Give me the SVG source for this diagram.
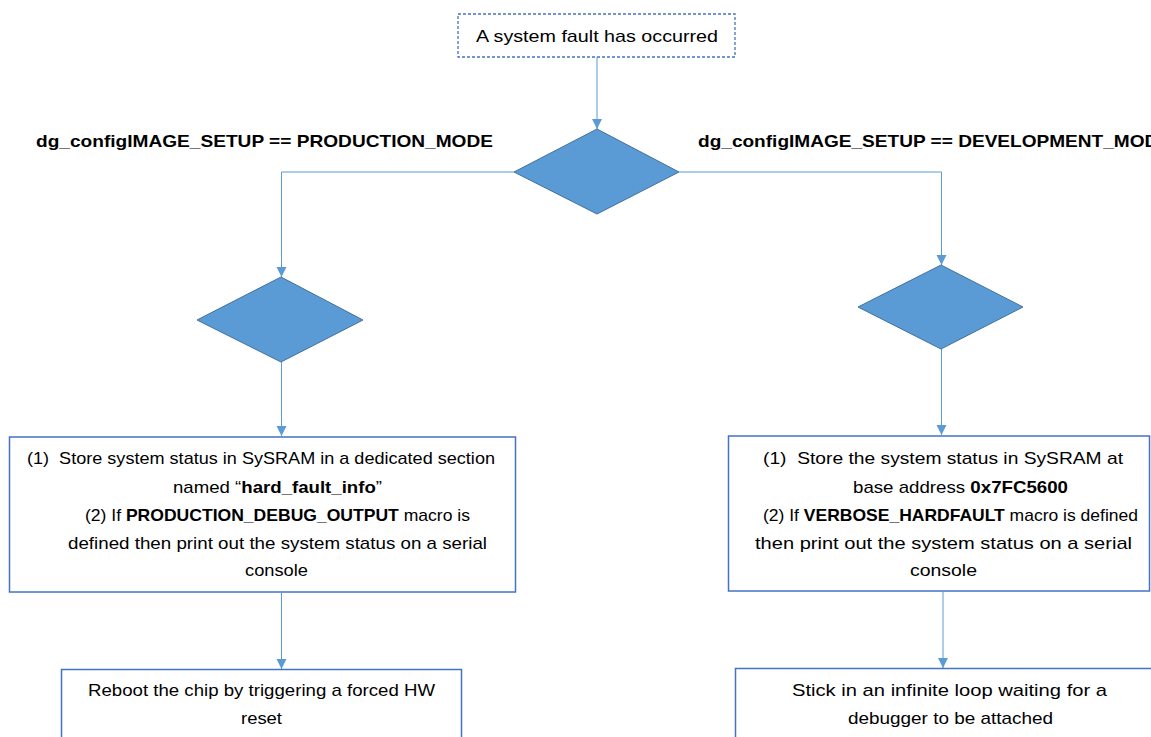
<svg xmlns="http://www.w3.org/2000/svg" width="1151" height="737" viewBox="0 0 1151 737">
<style>
text{font-family:"Liberation Sans",Arial,sans-serif;font-size:17px;fill:#000;white-space:pre}
.b{font-weight:bold}
.box{fill:#fff;stroke:#4472C4;stroke-width:1.5}
.dash{fill:#fff;stroke:#4472C4;stroke-width:1.3;stroke-dasharray:3 2}
.dia{fill:#5B9BD5;stroke:#41719C;stroke-width:1}
.con{fill:none;stroke:#5B9BD5;stroke-width:1}
</style>
<defs>
<marker id="arr" markerUnits="userSpaceOnUse" markerWidth="12" markerHeight="12" viewBox="0 0 12 12" refX="6" refY="11" orient="auto-start-reverse">
<path d="M1,1 L11,1 L6,11 Z" fill="#5B9BD5" transform="rotate(0)"/>
</marker>
<marker id="arrd" markerUnits="userSpaceOnUse" markerWidth="12" markerHeight="12" viewBox="0 0 12 12" refX="11" refY="6" orient="auto">
<path d="M1,1 L11,6 L1,11 Z" fill="#5B9BD5"/>
</marker>
</defs>
<g id="connectors">
<path class="con" d="M597,57 V129" marker-end="url(#arrd)"/>
<path class="con" d="M514,172 H281.5 V277" marker-end="url(#arrd)"/>
<path class="con" d="M679,172 H941.5 V265" marker-end="url(#arrd)"/>
<path class="con" d="M281.5,362 V436" marker-end="url(#arrd)"/>
<path class="con" d="M941.5,349 V435" marker-end="url(#arrd)"/>
<path class="con" d="M281.5,593 V669" marker-end="url(#arrd)"/>
<path class="con" d="M943,592 V668" marker-end="url(#arrd)"/>
</g>
<g id="start">
<rect class="dash" x="458" y="14" width="277" height="43"/>
<text x="476" y="42" textLength="242" lengthAdjust="spacingAndGlyphs">A system fault has occurred</text>
</g>
<g id="decision-mode">
<polygon class="dia" points="597,129 679,172 597,214 514,172"/>
</g>
<g id="label-production">
<text class="b" x="36" y="147" textLength="457" lengthAdjust="spacingAndGlyphs">dg_configIMAGE_SETUP == PRODUCTION_MODE</text>
</g>
<g id="label-development">
<text class="b" x="698" y="147" textLength="473" lengthAdjust="spacingAndGlyphs">dg_configIMAGE_SETUP == DEVELOPMENT_MODE</text>
</g>
<g id="decision-left">
<polygon class="dia" points="281,277 363,320 281,362 197,320"/>
</g>
<g id="decision-right">
<polygon class="dia" points="941,265 1023,307 941,349 858,307"/>
</g>
<g id="store-production">
<rect class="box" x="9.5" y="437" width="506" height="155"/>
<text x="27" y="464" textLength="468" lengthAdjust="spacingAndGlyphs">(1)  Store system status in SySRAM in a dedicated section</text>
<text x="173" y="493" textLength="209" lengthAdjust="spacingAndGlyphs">named “<tspan class="b">hard_fault_info</tspan>”</text>
<text x="85" y="521" textLength="385" lengthAdjust="spacingAndGlyphs">(2) If <tspan class="b">PRODUCTION_DEBUG_OUTPUT</tspan> macro is</text>
<text x="68" y="549" textLength="419" lengthAdjust="spacingAndGlyphs">defined then print out the system status on a serial</text>
<text x="245" y="576" textLength="63" lengthAdjust="spacingAndGlyphs">console</text>
</g>
<g id="store-development">
<rect class="box" x="728.5" y="436" width="421" height="155"/>
<text x="763" y="464" textLength="360" lengthAdjust="spacingAndGlyphs">(1)  Store the system status in SySRAM at</text>
<text x="853" y="493" textLength="215" lengthAdjust="spacingAndGlyphs">base address <tspan class="b">0x7FC5600</tspan></text>
<text x="763" y="521" textLength="375" lengthAdjust="spacingAndGlyphs">(2) If <tspan class="b">VERBOSE_HARDFAULT</tspan> macro is defined</text>
<text x="755" y="549" textLength="377" lengthAdjust="spacingAndGlyphs">then print out the system status on a serial</text>
<text x="910" y="576" textLength="67" lengthAdjust="spacingAndGlyphs">console</text>
</g>
<g id="reboot">
<rect class="box" x="61.5" y="669.5" width="400" height="80"/>
<text x="88" y="696" textLength="347" lengthAdjust="spacingAndGlyphs">Reboot the chip by triggering a forced HW</text>
<text x="241" y="724" textLength="41" lengthAdjust="spacingAndGlyphs">reset</text>
</g>
<g id="infinite-loop">
<rect class="box" x="735.5" y="668.5" width="430" height="80"/>
<text x="792" y="696" textLength="315" lengthAdjust="spacingAndGlyphs">Stick in an infinite loop waiting for a</text>
<text x="848" y="724" textLength="205" lengthAdjust="spacingAndGlyphs">debugger to be attached</text>
</g>
</svg>
